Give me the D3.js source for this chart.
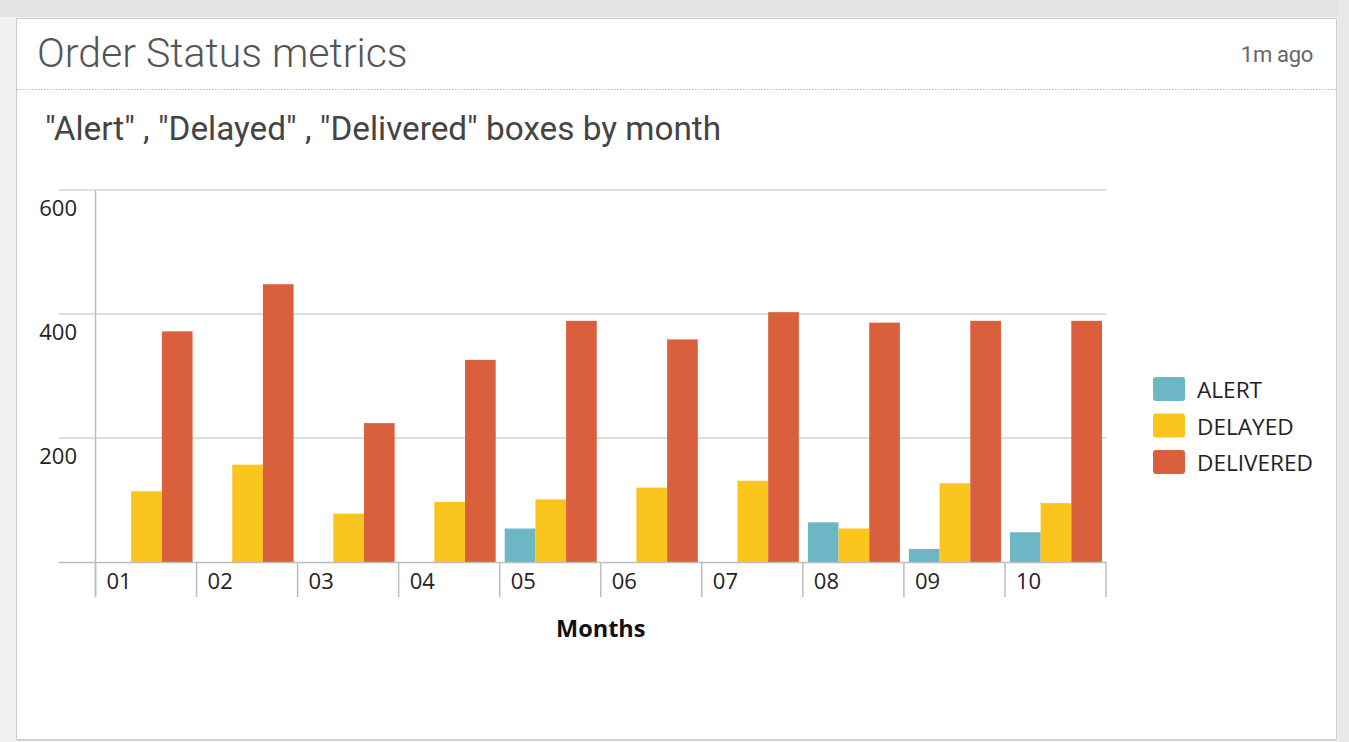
<!DOCTYPE html>
<html><head><meta charset="utf-8">
<script src="https://cdn.jsdelivr.net/npm/d3@7"></script>
<style>
html,body{margin:0;padding:0;background:#f1f1f1;}
body{width:1349px;height:742px;overflow:hidden;}
svg{display:block;}
</style></head><body>
<svg id="c" width="1349" height="742"></svg>
<script>
const months = ["01","02","03","04","05","06","07","08","09","10"];
const seriesNames = ["ALERT","DELAYED","DELIVERED"];
const alertValues = [0,0,0,0,54,0,0,64,21,48];
const delayedValues = [114,157,78,97,101,120,131,54,127,95];
const deliveredValues = [372,448,224,326,389,359,403,386,389,389];
const yTicks = [200,400,600];
const seriesColors = ["#6cb6c6","#fac51d","#da5f3d"];

const svg = d3.select("#c");
// background + panel
svg.append("rect").attr("x",0).attr("y",0).attr("width",1349).attr("height",17).attr("fill","#e4e4e4");
svg.append("rect").attr("x",1338).attr("y",0).attr("width",11).attr("height",742).attr("fill","#e9e9e9");
svg.append("rect").attr("x",16.5).attr("y",18.5).attr("width",1320).attr("height",721)
  .attr("fill","#fff").attr("stroke","#cdcdcd").attr("stroke-width",1);
svg.append("line").attr("x1",17).attr("x2",1336).attr("y1",740.5).attr("y2",740.5).attr("stroke","#d8d8d8").attr("stroke-width",1);

// header
svg.append("text").attr("x",37).attr("y",67).text("Order Status metrics")
  .attr("font-family","Roboto").attr("font-weight",300).attr("font-size",41).attr("fill","#555");
svg.append("text").attr("x",1313).attr("y",62).attr("text-anchor","end").text("1m ago")
  .attr("font-family","Roboto").attr("font-size",22).attr("letter-spacing","-0.3").attr("fill","#666");
svg.append("line").attr("x1",17).attr("x2",1336).attr("y1",89.5).attr("y2",89.5)
  .attr("stroke","#bbb").attr("stroke-dasharray","1.5,1.5");
svg.append("text").attr("x",45).attr("y",140).text('"Alert" , "Delayed" , "Delivered" boxes by month')
  .attr("font-family","Roboto").attr("font-size",33.3).attr("fill","#444");

// scales
const y = d3.scaleLinear().domain([0,600]).range([562,190]);
const x0 = d3.scaleBand().domain(months).range([95.5,1106]).padding(0);
const x1 = d3.scaleBand().domain(seriesNames).range([5, x0.bandwidth()-4]).padding(0);
const color = d3.scaleOrdinal().domain(seriesNames).range(seriesColors);

const FONT = "'Open Sans', sans-serif";
// gridlines
svg.append("g").selectAll("line").data(yTicks).join("line")
  .attr("x1",59).attr("x2",1106).attr("y1",d=>y(d)).attr("y2",d=>y(d))
  .attr("stroke","#dedede").attr("stroke-width",2);
// y labels
svg.append("g").selectAll("text").data(yTicks).join("text")
  .attr("x",77).attr("y",d=>y(d)+26).attr("text-anchor","end").text(d=>d)
  .attr("font-family",FONT).attr("font-size",22).attr("fill","#222");

// bars
const rows = months.map((m,i)=>({month:m, values:[alertValues[i],delayedValues[i],deliveredValues[i]]}));
const g = svg.append("g");
g.selectAll("g").data(rows).join("g")
  .attr("transform",d=>`translate(${x0(d.month)},0)`)
  .selectAll("rect").data(d=>d.values.map((v,j)=>({name:seriesNames[j],v})))
  .join("rect")
  .attr("x",d=>x1(d.name)).attr("width",x1.bandwidth())
  .attr("y",d=>y(d.v)).attr("height",d=>y(0)-y(d.v))
  .attr("fill",d=>color(d.name));

// axes lines
svg.append("line").attr("x1",59).attr("x2",1106).attr("y1",y(0)+0.5).attr("y2",y(0)+0.5)
  .attr("stroke","#bdbdbd").attr("stroke-width",1.5);
svg.append("line").attr("x1",95.5).attr("x2",95.5).attr("y1",190).attr("y2",597)
  .attr("stroke","#bdbdbd").attr("stroke-width",1.5);
const bounds = months.map(m=>x0(m)).concat([x0.range()[1]]);
svg.append("g").selectAll("line").data(bounds).join("line")
  .attr("x1",d=>d).attr("x2",d=>d).attr("y1",y(0)).attr("y2",597)
  .attr("stroke","#bdbdbd").attr("stroke-width",1.5);
svg.append("g").selectAll("text").data(months).join("text")
  .attr("x",d=>x0(d)+11).attr("y",589).text(d=>d)
  .attr("font-family",FONT).attr("font-size",22).attr("fill","#222");
svg.append("text").attr("x",(x0.range()[0]+x0.range()[1])/2).attr("y",637).attr("text-anchor","middle")
  .text("Months").attr("font-family",FONT).attr("font-weight",700).attr("font-size",23.5).attr("fill","#111");

// legend
const lg = svg.append("g").selectAll("g").data(seriesNames).join("g")
  .attr("transform",(d,i)=>`translate(1153,${377+i*36.5})`);
lg.append("rect").attr("width",32).attr("height",24).attr("rx",3).attr("fill",d=>color(d));
lg.append("text").attr("x",44).attr("y",21).text(d=>d)
  .attr("font-family",FONT).attr("font-size",22.6).attr("fill","#222");
</script>
</body></html>
